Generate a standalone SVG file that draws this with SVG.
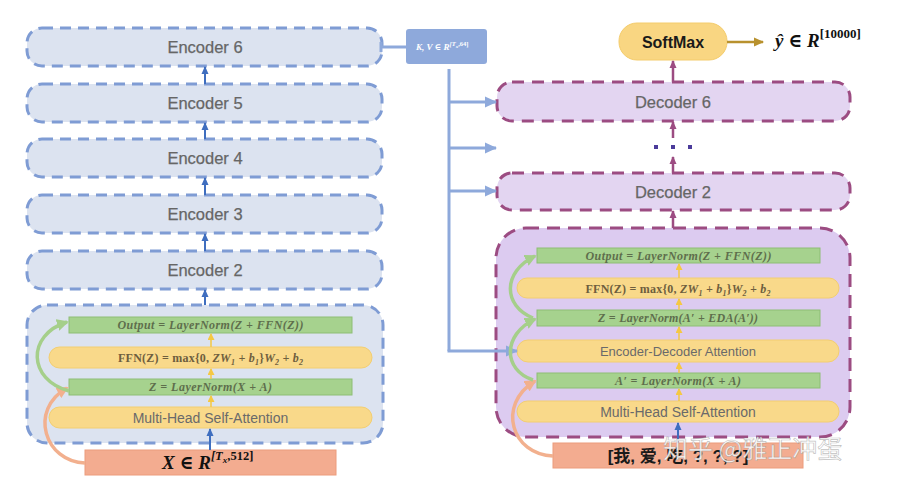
<svg xmlns="http://www.w3.org/2000/svg" width="898" height="500" viewBox="0 0 898 500">
<style>
.enc{fill:#DCE3F0;stroke:#7F9CD4;stroke-width:3;stroke-dasharray:11 7}
.dec{fill:#E3D5F1;stroke:#9C4C82;stroke-width:3;stroke-dasharray:12 8}
.decbig{fill:#DCCBF0;stroke:#9C4C82;stroke-width:3;stroke-dasharray:13 8}
.lbl{font-family:"Liberation Sans","Noto Sans",Arial,sans-serif;font-size:16.5px;fill:#666666;text-anchor:middle;stroke:#666666;stroke-width:0.25}
.grn{fill:#A6D28E;stroke:#8DBE75;stroke-width:1}
.yel{fill:#F9D98A;stroke:#F3CE70;stroke-width:1}
.inp{fill:#F3AC90;stroke:#EC9C7C;stroke-width:1}
.math{font-family:"Liberation Serif","DejaVu Serif",serif;font-weight:bold;font-style:italic;font-size:12px;text-anchor:middle}
.mg{fill:#5E6E4C}
.my{fill:#6E5E3E}
.up{font-style:normal}
.sans{font-family:"Liberation Sans","Noto Sans",Arial,sans-serif;fill:#6A6A6A;text-anchor:middle}
.ya{stroke:#F5C842;stroke-width:1.5;fill:none}
.ba{stroke:#3F6EBF;stroke-width:2;fill:none}
.ma{stroke:#9C4C82;stroke-width:2.5;fill:none}
.kv{stroke:#8EA9DB;stroke-width:3;fill:none}
.oc{stroke:#F2B08E;stroke-width:3.5;fill:none}
.gc{stroke:#A5CF8A;stroke-width:3.5;fill:none}
</style>
<defs>
<marker id="mb" markerUnits="userSpaceOnUse" markerWidth="8" markerHeight="8" refX="7" refY="4" orient="auto"><path d="M0,0.5 L8,4 L0,7.5 z" fill="#3F6EBF"/></marker>
<marker id="my" markerUnits="userSpaceOnUse" markerWidth="7" markerHeight="7" refX="6" refY="3.5" orient="auto"><path d="M0,0 L7,3.5 L0,7 z" fill="#F5C842"/></marker>
<marker id="mm" markerUnits="userSpaceOnUse" markerWidth="8" markerHeight="8" refX="7" refY="4" orient="auto"><path d="M0,0.5 L8,4 L0,7.5 z" fill="#9C4C82"/></marker>
<marker id="mk" markerUnits="userSpaceOnUse" markerWidth="12" markerHeight="12" refX="11" refY="6" orient="auto"><path d="M0,0.5 L12,6 L0,11.5 z" fill="#8EA9DB"/></marker>
<marker id="mo" markerUnits="userSpaceOnUse" markerWidth="12" markerHeight="12" refX="10" refY="6" orient="auto"><path d="M0,0 L12,6 L0,12 z" fill="#F2B08E"/></marker>
<marker id="mg" markerUnits="userSpaceOnUse" markerWidth="12" markerHeight="12" refX="10" refY="6" orient="auto"><path d="M0,0 L12,6 L0,12 z" fill="#A5CF8A"/></marker>
<marker id="ms" markerUnits="userSpaceOnUse" markerWidth="10" markerHeight="10" refX="9" refY="5" orient="auto"><path d="M0,0.5 L10,5 L0,9.5 z" fill="#B8912E"/></marker>
</defs>
<rect width="898" height="500" fill="#FFFFFF"/>

<!-- Encoder stack -->
<g id="encoder6"><rect class="enc" x="27" y="28" width="355" height="38" rx="15"/><text class="lbl" x="205" y="53">Encoder 6</text></g>
<g id="encoder5"><rect class="enc" x="27" y="84" width="355" height="38" rx="15"/><text class="lbl" x="205" y="109">Encoder 5</text></g>
<g id="encoder4"><rect class="enc" x="27" y="139" width="355" height="38" rx="15"/><text class="lbl" x="205" y="164">Encoder 4</text></g>
<g id="encoder3"><rect class="enc" x="27" y="195" width="355" height="38" rx="15"/><text class="lbl" x="205" y="220">Encoder 3</text></g>
<g id="encoder2"><rect class="enc" x="27" y="251" width="355" height="38" rx="15"/><text class="lbl" x="205" y="276">Encoder 2</text></g>

<g id="encoder1">
<rect class="enc" x="27" y="305" width="356" height="138" rx="20"/>
<rect class="grn" x="69" y="317" width="283" height="16"/>
<text class="math mg" x="210.5" y="329" textLength="186">Output = LayerNorm(Z + FFN(Z))</text>
<rect class="yel" x="49" y="347" width="323" height="21" rx="10.5"/>
<text class="math my" x="210.5" y="362" textLength="185"><tspan class="up">FFN(Z) = max{0, </tspan>ZW<tspan font-size="8" dy="3">1</tspan><tspan dy="-3"> + b</tspan><tspan font-size="8" dy="3">1</tspan><tspan class="up" dy="-3">}</tspan>W<tspan font-size="8" dy="3">2</tspan><tspan dy="-3"> + b</tspan><tspan font-size="8" dy="3">2</tspan></text>
<rect class="grn" x="69" y="379" width="283" height="16"/>
<text class="math mg" x="210.5" y="391" textLength="123">Z = LayerNorm(X + A)</text>
<rect class="yel" x="49" y="407" width="323" height="21" rx="10.5"/>
<text class="sans" x="210.5" y="422.5" font-size="14">Multi-Head Self-Attention</text>
</g>

<g id="encoder-input">
<rect class="inp" x="85" y="450" width="251" height="25"/>
<text font-family="Liberation Serif,DejaVu Serif,serif" font-weight="bold" font-style="italic" font-size="19" fill="#111" x="162" y="469">X <tspan font-style="normal">∈</tspan> R<tspan font-size="12.5" dy="-9">[T</tspan><tspan font-size="9" dy="3">x</tspan><tspan font-size="12.5" font-style="normal" dy="-3">,512]</tspan></text>
</g>

<g id="kv">
<rect x="406" y="29" width="81" height="35" rx="3" fill="#8EA9DB"/>
<text font-family="Liberation Serif,DejaVu Serif,serif" font-weight="bold" font-style="italic" font-size="9" fill="#FFFFFF" x="416" y="50">K, V <tspan font-style="normal">∈</tspan> R<tspan font-size="6.5" dy="-4">[T</tspan><tspan font-size="5" dy="1.5">x</tspan><tspan font-size="6.5" font-style="normal" dy="-1.5">,64]</tspan></text>
</g>

<!-- Decoder stack -->
<g id="softmax">
<rect x="619" y="23" width="108" height="37" rx="18" fill="#F9D682" stroke="#F4CC6C" stroke-width="1"/>
<text font-family="Liberation Sans,Noto Sans,Arial,sans-serif" font-weight="bold" font-size="16" fill="#1A1A1A" text-anchor="middle" x="673" y="47.5">SoftMax</text>
</g>
<g id="output-y">
<text font-family="Liberation Serif,DejaVu Serif,serif" font-weight="bold" font-style="italic" font-size="19" fill="#111" x="775" y="47">ŷ <tspan font-style="normal">∈</tspan> R<tspan font-size="13" font-style="normal" dy="-9">[10000]</tspan></text>
</g>
<g id="decoder6"><rect class="dec" x="497" y="82" width="353" height="39" rx="15"/><text class="lbl" x="673" y="108">Decoder 6</text></g>
<g id="ellipsis"><rect x="654" y="145" width="4" height="4" fill="#4B3B9A"/><rect x="671" y="145" width="4" height="4" fill="#4B3B9A"/><rect x="688" y="145" width="4" height="4" fill="#4B3B9A"/></g>
<g id="decoder2"><rect class="dec" x="497" y="173" width="353" height="37" rx="15"/><text class="lbl" x="673" y="198">Decoder 2</text></g>

<g id="decoder1">
<rect class="decbig" x="496" y="228" width="354" height="209" rx="30"/>
<rect class="grn" x="537" y="248" width="283" height="15"/>
<text class="math mg" x="678.5" y="259.5" textLength="186">Output = LayerNorm(Z + FFN(Z))</text>
<rect class="yel" x="517" y="278" width="322" height="20" rx="10"/>
<text class="math my" x="678" y="292.5" textLength="185"><tspan class="up">FFN(Z) = max{0, </tspan>ZW<tspan font-size="8" dy="3">1</tspan><tspan dy="-3"> + b</tspan><tspan font-size="8" dy="3">1</tspan><tspan class="up" dy="-3">}</tspan>W<tspan font-size="8" dy="3">2</tspan><tspan dy="-3"> + b</tspan><tspan font-size="8" dy="3">2</tspan></text>
<rect class="grn" x="537" y="310" width="283" height="16"/>
<text class="math mg" x="678" y="322" textLength="160">Z = LayerNorm(A′ + EDA(A′))</text>
<rect class="yel" x="517" y="340" width="322" height="22" rx="11"/>
<text class="sans" x="678" y="355.5" font-size="13">Encoder-Decoder Attention</text>
<rect class="grn" x="537" y="373" width="283" height="15"/>
<text class="math mg" x="678" y="384.5" textLength="126">A′ = LayerNorm(X + A)</text>
<rect class="yel" x="517" y="401" width="322" height="21" rx="10.5"/>
<text class="sans" x="678" y="416.5" font-size="14">Multi-Head Self-Attention</text>
</g>

<g id="decoder-input">
<rect class="inp" x="553" y="443" width="250" height="25"/>
<text font-family="Liberation Sans,Noto Sans CJK SC,sans-serif" font-weight="bold" font-size="17" fill="#1A1A1A" text-anchor="middle" x="678" y="462">[我, 爱, 吃, ?, ?, ?]</text>
</g>

<g id="connectors">
<line class="ba" x1="205" y1="84" x2="205" y2="67" marker-end="url(#mb)"/>
<line class="ba" x1="205" y1="139" x2="205" y2="123" marker-end="url(#mb)"/>
<line class="ba" x1="205" y1="195" x2="205" y2="178" marker-end="url(#mb)"/>
<line class="ba" x1="205" y1="251" x2="205" y2="234" marker-end="url(#mb)"/>
<line class="ba" x1="205" y1="305" x2="205" y2="290" marker-end="url(#mb)"/>
<line class="ba" x1="210" y1="450" x2="210" y2="429" marker-end="url(#mb)"/>
<line class="ya" x1="211" y1="407" x2="211" y2="396" marker-end="url(#my)"/>
<line class="ya" x1="211" y1="379" x2="211" y2="369" marker-end="url(#my)"/>
<line class="ya" x1="211" y1="347" x2="211" y2="334" marker-end="url(#my)"/>
<path class="oc" d="M85,463 C45,462 28,410 67,388" marker-end="url(#mo)"/>
<path class="gc" d="M69,391 C28,380 26,335 67,322" marker-end="url(#mg)"/>
<line class="kv" x1="381" y1="47" x2="406" y2="47"/>
<line class="kv" x1="381" y1="42" x2="381" y2="52"/>
<path class="kv" d="M449,69 L449,351"/>
<line class="kv" x1="449" y1="102" x2="496" y2="102" marker-end="url(#mk)"/>
<line class="kv" x1="449" y1="148" x2="496" y2="148" marker-end="url(#mk)"/>
<line class="kv" x1="449" y1="191" x2="496" y2="191" marker-end="url(#mk)"/>
<line class="kv" x1="447.5" y1="351" x2="517" y2="351" marker-end="url(#mk)"/>
<line class="ma" x1="673" y1="82" x2="673" y2="61" marker-end="url(#mm)"/>
<line class="ma" x1="673" y1="138" x2="673" y2="122" marker-end="url(#mm)"/>
<line class="ma" x1="673" y1="173" x2="673" y2="157" marker-end="url(#mm)"/>
<line class="ma" x1="673" y1="228" x2="673" y2="211" marker-end="url(#mm)"/>
<line stroke="#3F6EBF" stroke-width="2" x1="678" y1="443" x2="678" y2="423" marker-end="url(#mb)"/>
<line stroke="#B8912E" stroke-width="2.5" x1="727" y1="42" x2="763" y2="42" marker-end="url(#ms)"/>
<line class="ya" x1="679" y1="401" x2="679" y2="389" marker-end="url(#my)"/>
<line class="ya" x1="679" y1="373" x2="679" y2="363" marker-end="url(#my)"/>
<line class="ya" x1="679" y1="340" x2="679" y2="327" marker-end="url(#my)"/>
<line class="ya" x1="679" y1="310" x2="679" y2="299" marker-end="url(#my)"/>
<line class="ya" x1="679" y1="278" x2="679" y2="264" marker-end="url(#my)"/>
<path class="oc" d="M553,456 C512,455 496,405 535,381" marker-end="url(#mo)"/>
<path class="gc" d="M533,380 C503,370 502,335 535,319" marker-end="url(#mg)"/>
<path class="gc" d="M533,318 C503,306 502,272 535,256" marker-end="url(#mg)"/>
</g>

<text font-family="Noto Sans CJK SC,sans-serif" font-size="25" fill="#FFFFFF" fill-opacity="0.88" stroke="#8A8A8A" stroke-width="0.7" stroke-opacity="0.55" x="663" y="458">知乎 @雅正冲蛋</text>
</svg>
